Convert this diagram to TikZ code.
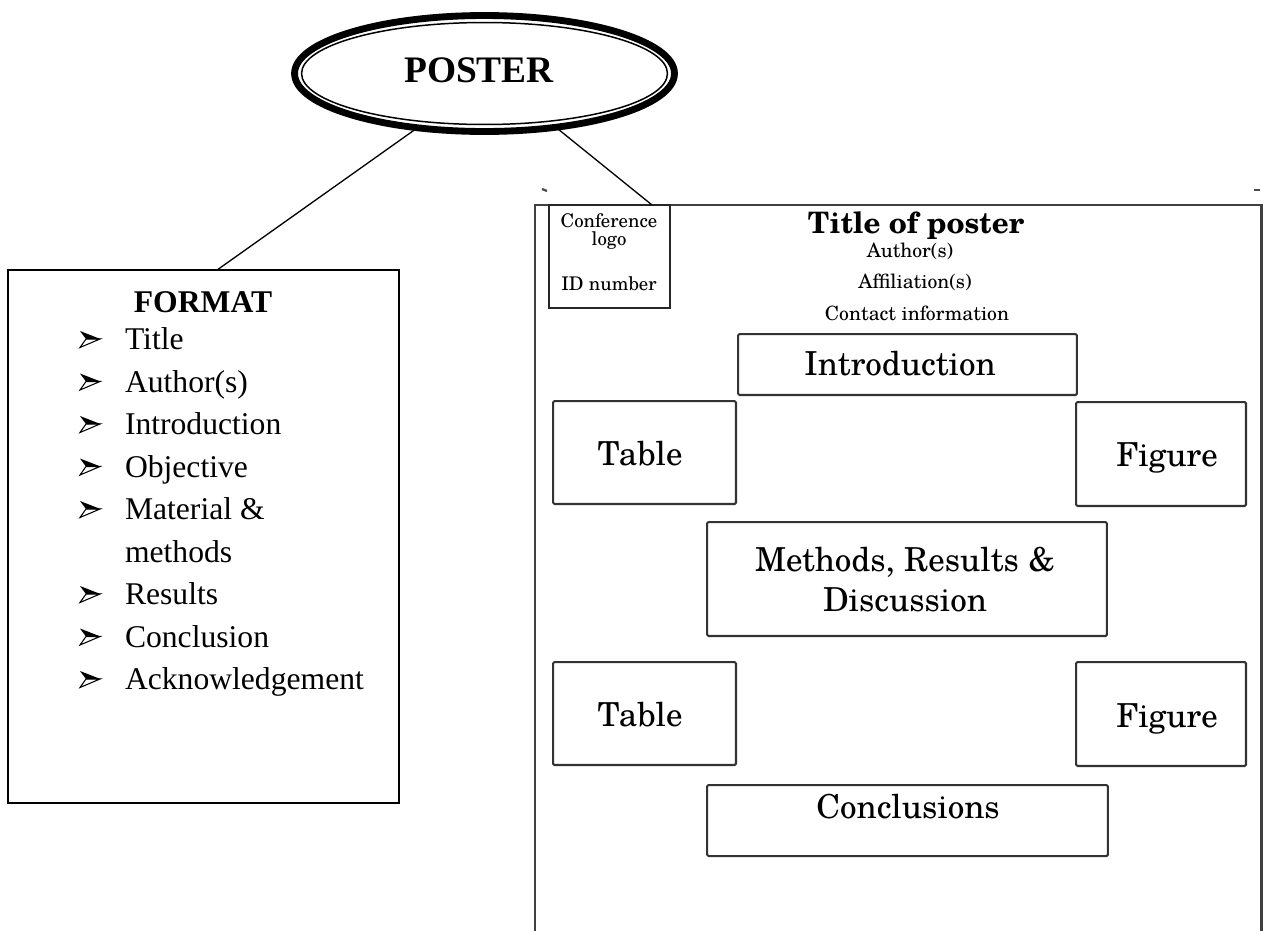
\documentclass[tikz,border=0pt]{standalone}
\usepackage{fontspec}
\setmainfont{Liberation Serif}
\newfontfamily\schola{TeX Gyre Schola}
\usetikzlibrary{shapes.geometric,calc}

\begin{document}
\begin{tikzpicture}[x=0.02cm,y=-0.02cm,
  every node/.style={inner sep=0pt,outer sep=0pt},
  conn/.style={line width=0.75pt,black},
  fmtitem/.style={anchor=base west,font=\fontsize{18}{21}\selectfont},
  pbox/.style={draw=black!80,line width=1.15pt,rounded corners=0.8pt},
  plabel/.style={anchor=base,font=\schola\fontsize{18.8}{22}\selectfont},
  psmall/.style={anchor=base,font=\schola\fontsize{11.2}{13}\selectfont},
  plogo/.style={anchor=base,font=\schola\fontsize{10.7}{12}\selectfont}
]
\useasboundingbox (0,0) rectangle (1266,930);

% ---------- central ellipse ----------
\node[ellipse,draw,line width=3.9pt,fill=white,minimum width=7.6cm,minimum height=2.32cm] (poster) at (484.5,73.5) {};
\draw[line width=0.85pt] (poster.center) ellipse [x radius=3.66cm,y radius=1.02cm];
\node[anchor=base,font=\bfseries\fontsize{21.3}{24}\selectfont] (posterT) at (479,82) {POSTER};

% ---------- format list ----------
\node[draw,line width=1.2pt,minimum width=7.82cm,minimum height=10.66cm] (fmt) at (203.5,536.5) {};
\node[anchor=base,font=\bfseries\fontsize{18}{21}\selectfont] (fmtT) at (203,312) {FORMAT};
\foreach \i/\t in {0/Title,1/Author(s),2/Introduction,3/Objective,4/Material \&,5/methods,6/Results,7/Conclusion,8/Acknowledgement}
  \node[fmtitem] (item\i) at (125,{349.5+42.5*\i}) {\t};
% arrowhead bullets
\foreach \i in {0,1,2,3,4,6,7,8}{
  \pgfmathsetmacro\yc{339+42.5*\i}
  \fill (80,\yc-8) -- (100.5,\yc) -- (86,\yc) -- cycle;
  \draw[line width=0.6pt,line join=miter] (86,\yc) -- (100,\yc) -- (80,\yc+8.5) -- cycle;
}

% ---------- poster layout ----------
\node[minimum width=14.54cm,minimum height=14.7cm,anchor=north west] (frame) at (535,205) {};
\draw[line width=1.6pt,black!75] (frame.south west) -- (frame.north west) -- (frame.north east) -- (frame.south east);
\draw[line width=1.3pt,black!70] (542,189) -- (547,191);
\draw[line width=1.3pt,black!70] (1254,190) -- (1260,190);

\node[draw=black!85,line width=1.2pt,minimum width=2.42cm,minimum height=2.06cm] (logo) at (609.5,256.5) {};
\node[plogo] (logoA) at (609,227) {Conference};
\node[plogo] (logoB) at (609,245) {logo};
\node[plogo] (logoC) at (609,290) {ID number};

\node[anchor=base,font=\schola\bfseries\fontsize{16.8}{20}\selectfont] (ptitle) at (916,233) {Title of poster};
\node[psmall] (pauth) at (910,257) {Author(s)};
\node[psmall] (paff) at (915,288) {Affiliation(s)};
\node[psmall] (pcont) at (917,320) {Contact information};

\node[pbox,minimum width=6.78cm,minimum height=1.22cm] (intro) at (907.5,364.5) {};
\node[plabel] (introT) at (900,375) {Introduction};

\node[pbox,minimum width=3.66cm,minimum height=2.06cm] (tab1) at (644.5,452.5) {};
\node[plabel] (tab1T) at (640,465) {Table};
\node[pbox,minimum width=3.4cm,minimum height=2.08cm] (fig1) at (1161,454) {};
\node[plabel] (fig1T) at (1167,466) {Figure};

\node[pbox,minimum width=8cm,minimum height=2.28cm] (meth) at (907,579) {};
\node[plabel] (methA) at (905,571) {Methods, Results \&};
\node[plabel] (methB) at (905,611) {Discussion};

\node[pbox,minimum width=3.66cm,minimum height=2.06cm] (tab2) at (644.5,713.5) {};
\node[plabel] (tab2T) at (640,726) {Table};
\node[pbox,minimum width=3.4cm,minimum height=2.08cm] (fig2) at (1161,714) {};
\node[plabel] (fig2T) at (1167,727) {Figure};

\node[pbox,minimum width=8.02cm,minimum height=1.42cm] (concl) at (907.5,820.5) {};
\node[plabel] (conclT) at (908,818) {Conclusions};

% ---------- connectors ----------
\draw[conn] (poster.219.4) -- ($(fmt.north west)!0.5345!(fmt.north east)$);
\draw[conn] (poster.323.8) -- ($(frame.north west)!0.161!(frame.north east)$);
\end{tikzpicture}
\end{document}
